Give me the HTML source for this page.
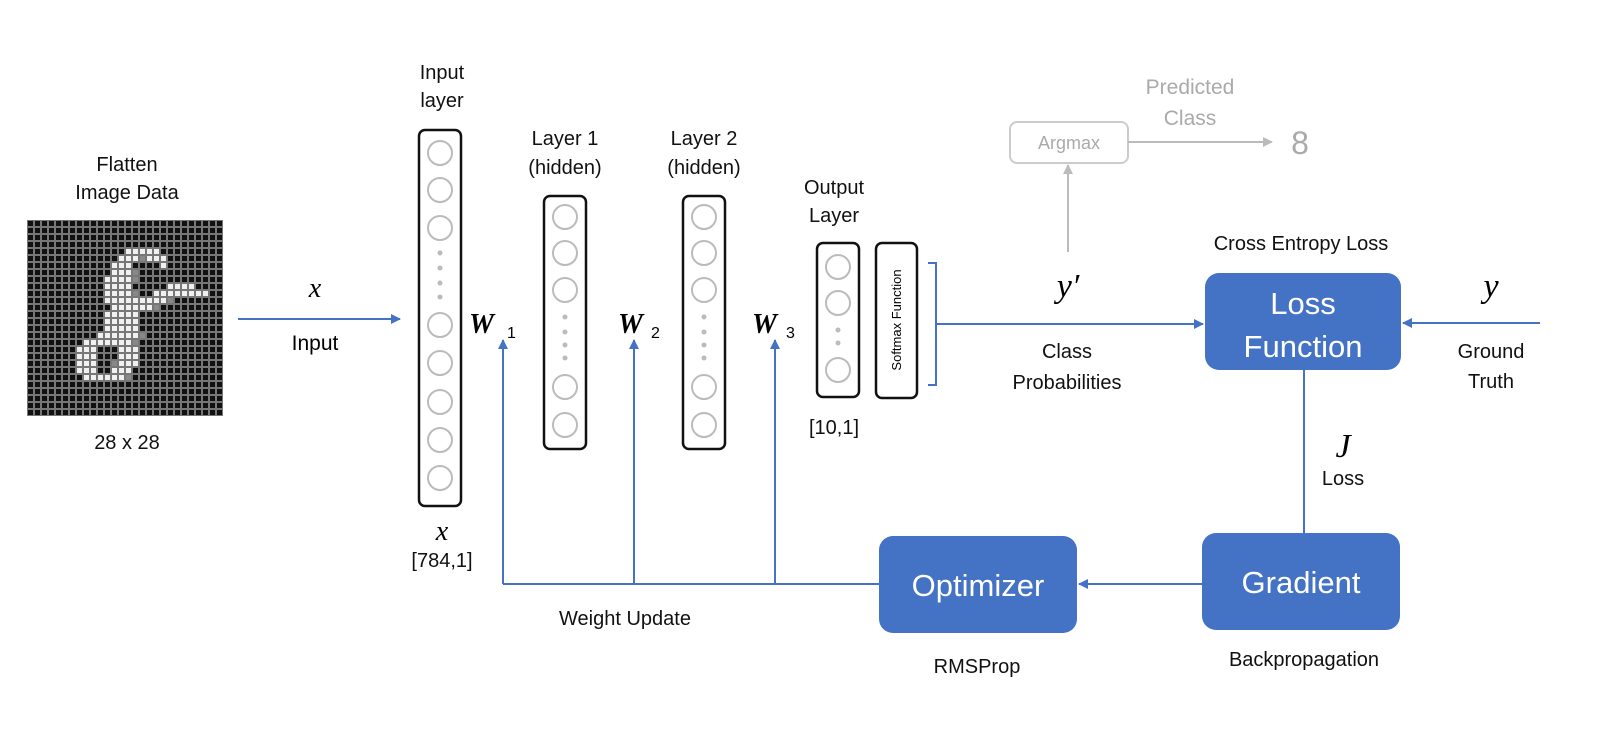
<!DOCTYPE html>
<html><head><meta charset="utf-8"><style>
html,body{margin:0;padding:0;background:#fff;}
svg{display:block;font-family:"Liberation Sans",sans-serif;}
</style></head><body>
<svg width="1600" height="745" viewBox="0 0 1600 745" xmlns="http://www.w3.org/2000/svg">
<defs>
<marker id="ab" markerWidth="10" markerHeight="10" refX="9" refY="5" orient="auto" markerUnits="userSpaceOnUse"><path d="M0,0 L10,5 L0,10 z" fill="#4472C4"/></marker>
<marker id="ag" markerWidth="10" markerHeight="10" refX="9" refY="5" orient="auto" markerUnits="userSpaceOnUse"><path d="M0,0 L10,5 L0,10 z" fill="#bbb"/></marker>
<pattern id="grid" x="27" y="220" width="7" height="7" patternUnits="userSpaceOnUse"><rect width="7" height="7" fill="#777"/><rect x="1" y="1" width="5" height="5" fill="#111"/></pattern>
</defs>
<rect width="1600" height="745" fill="#fff"/>
<g font-size="20" fill="#111" text-anchor="middle">
<text x="127" y="171">Flatten</text>
<text x="127" y="199">Image Data</text>
<text x="127" y="449">28 x 28</text>
</g>
<rect x="27" y="220" width="196" height="196" fill="url(#grid)"/>
<g id="dig"></g>
<script>
(function(){var cells=[[4,14,18],[5,13,15],[5,17,19],[6,12,14],[6,19,19],[7,12,14],[8,11,14],[9,11,14],[9,20,23],[10,18,25],[10,11,14],[11,15,19],[11,11,14],[12,12,17],[13,11,15],[14,11,15],[15,11,15],[16,10,15],[17,8,14],[18,7,9],[18,13,15],[19,7,9],[19,13,15],[20,7,9],[20,13,15],[21,7,9],[21,12,14],[22,8,13]];
var grey=[[5,16,16],[7,15,15],[11,20,20],[12,18,18],[16,16,16],[22,14,14],[17,15,15],[10,15,15],[8,15,15],[20,12,12]];
var g=document.getElementById('dig');var ns='http://www.w3.org/2000/svg';
function add(list,col){list.forEach(function(c){for(var x=c[1];x<=c[2];x++){var r=document.createElementNS(ns,'rect');r.setAttribute('x',27+x*7+1);r.setAttribute('y',220+c[0]*7+1);r.setAttribute('width',5);r.setAttribute('height',5);r.setAttribute('fill',col);g.appendChild(r);}});}
add(grey,'#888');add(cells,'#f0f0f0');})();
</script>
<line x1="238" y1="319" x2="400" y2="319" stroke="#4472C4" stroke-width="2" marker-end="url(#ab)"/>
<text x="315" y="297" font-family="Liberation Serif,serif" font-style="italic" font-size="28" text-anchor="middle">x</text>
<text x="315" y="350" font-size="21" text-anchor="middle">Input</text>
<g font-size="20" fill="#111" text-anchor="middle">
<text x="442" y="79">Input</text><text x="442" y="107">layer</text>
<text x="565" y="145">Layer 1</text><text x="565" y="174">(hidden)</text>
<text x="704" y="145">Layer 2</text><text x="704" y="174">(hidden)</text>
<text x="834" y="194">Output</text><text x="834" y="222">Layer</text>
<text x="834" y="434">[10,1]</text>
<text x="442" y="567">[784,1]</text>
</g>
<text x="442" y="540" font-family="Liberation Serif,serif" font-style="italic" font-size="28" text-anchor="middle">x</text>
<g fill="none" stroke="#111" stroke-width="2.5">
<rect x="419" y="130" width="42" height="376" rx="6"/>
<rect x="544" y="196" width="42" height="253" rx="6"/>
<rect x="683" y="196" width="42" height="253" rx="6"/>
<rect x="817" y="243" width="42" height="154" rx="6"/>
<rect x="876" y="243" width="41" height="155" rx="6"/>
</g>
<g fill="none" stroke="#bbb" stroke-width="2">
<circle cx="440" cy="153" r="12"/><circle cx="440" cy="190" r="12"/><circle cx="440" cy="228" r="12"/>
<circle cx="440" cy="325" r="12"/><circle cx="440" cy="363" r="12"/><circle cx="440" cy="402" r="12"/><circle cx="440" cy="440" r="12"/><circle cx="440" cy="478" r="12"/>
<circle cx="565" cy="217" r="12"/><circle cx="565" cy="253" r="12"/><circle cx="565" cy="290" r="12"/><circle cx="565" cy="387" r="12"/><circle cx="565" cy="425" r="12"/>
<circle cx="704" cy="217" r="12"/><circle cx="704" cy="253" r="12"/><circle cx="704" cy="290" r="12"/><circle cx="704" cy="387" r="12"/><circle cx="704" cy="425" r="12"/>
<circle cx="838" cy="267" r="12"/><circle cx="838" cy="303" r="12"/><circle cx="838" cy="370" r="12"/>
</g>
<g fill="#bbb">
<circle cx="440" cy="253" r="2.5"/><circle cx="440" cy="268" r="2.5"/><circle cx="440" cy="283" r="2.5"/><circle cx="440" cy="297" r="2.5"/>
<circle cx="565" cy="317" r="2.5"/><circle cx="565" cy="332" r="2.5"/><circle cx="565" cy="345" r="2.5"/><circle cx="565" cy="358" r="2.5"/>
<circle cx="704" cy="317" r="2.5"/><circle cx="704" cy="332" r="2.5"/><circle cx="704" cy="345" r="2.5"/><circle cx="704" cy="358" r="2.5"/>
<circle cx="838" cy="330" r="2.5"/><circle cx="838" cy="343" r="2.5"/>
</g>
<text transform="translate(901,320) rotate(-90)" font-size="13" text-anchor="middle">Softmax Function</text>
<g font-family="Liberation Serif,serif" font-weight="bold" font-style="italic" font-size="28">
<text x="469" y="333">W</text><text x="618" y="333">W</text><text x="752" y="333">W</text>
</g>
<g font-size="16"><text x="507" y="338">1</text><text x="651" y="338">2</text><text x="786" y="338">3</text></g>
<g stroke="#4472C4" stroke-width="2" fill="none">
<polyline points="879,584 503,584"/>
<line x1="503" y1="584" x2="503" y2="340" marker-end="url(#ab)"/>
<line x1="634" y1="584" x2="634" y2="340" marker-end="url(#ab)"/>
<line x1="775" y1="584" x2="775" y2="340" marker-end="url(#ab)"/>
<polyline points="928,263 936,263 936,385 928,385"/>
<line x1="936" y1="324" x2="1203" y2="324" marker-end="url(#ab)"/>
<line x1="1540" y1="323" x2="1403" y2="323" marker-end="url(#ab)"/>
<line x1="1304" y1="370" x2="1304" y2="533"/>
<line x1="1202" y1="584" x2="1079" y2="584" marker-end="url(#ab)"/>
</g>
<rect x="1010" y="122" width="118" height="41" rx="7" fill="none" stroke="#ccc" stroke-width="2"/>
<text x="1069" y="149" font-size="18" fill="#aaa" text-anchor="middle">Argmax</text>
<line x1="1128" y1="142" x2="1272" y2="142" stroke="#bbb" stroke-width="2" marker-end="url(#ag)"/>
<line x1="1068" y1="252" x2="1068" y2="165" stroke="#bbb" stroke-width="2" marker-end="url(#ag)"/>
<text x="1300" y="154" font-size="32" fill="#aaa" text-anchor="middle">8</text>
<text x="1190" y="94" font-size="21" fill="#aaa" text-anchor="middle">Predicted</text>
<text x="1190" y="125" font-size="21" fill="#aaa" text-anchor="middle">Class</text>
<g font-size="20" fill="#111" text-anchor="middle">
<text x="1301" y="250">Cross Entropy Loss</text>
<text x="1067" y="358">Class</text><text x="1067" y="389">Probabilities</text>
<text x="1491" y="358">Ground</text><text x="1491" y="388">Truth</text>
<text x="1343" y="485">Loss</text>
<text x="625" y="625">Weight Update</text>
<text x="977" y="673">RMSProp</text>
<text x="1304" y="666">Backpropagation</text>
</g>
<g font-family="Liberation Serif,serif" font-style="italic" font-size="34" text-anchor="middle">
<text x="1068" y="297">y′</text>
<text x="1491" y="297">y</text>
<text x="1343" y="457">J</text>
</g>
<g fill="#4472C4">
<rect x="1205" y="273" width="196" height="97" rx="14"/>
<rect x="1202" y="533" width="198" height="97" rx="14"/>
<rect x="879" y="536" width="198" height="97" rx="14"/>
</g>
<g fill="#fff" font-size="31" text-anchor="middle">
<text x="1303" y="314">Loss</text>
<text x="1303" y="357">Function</text>
<text x="1301" y="593">Gradient</text>
<text x="978" y="596">Optimizer</text>
</g>
</svg>
</body></html>
